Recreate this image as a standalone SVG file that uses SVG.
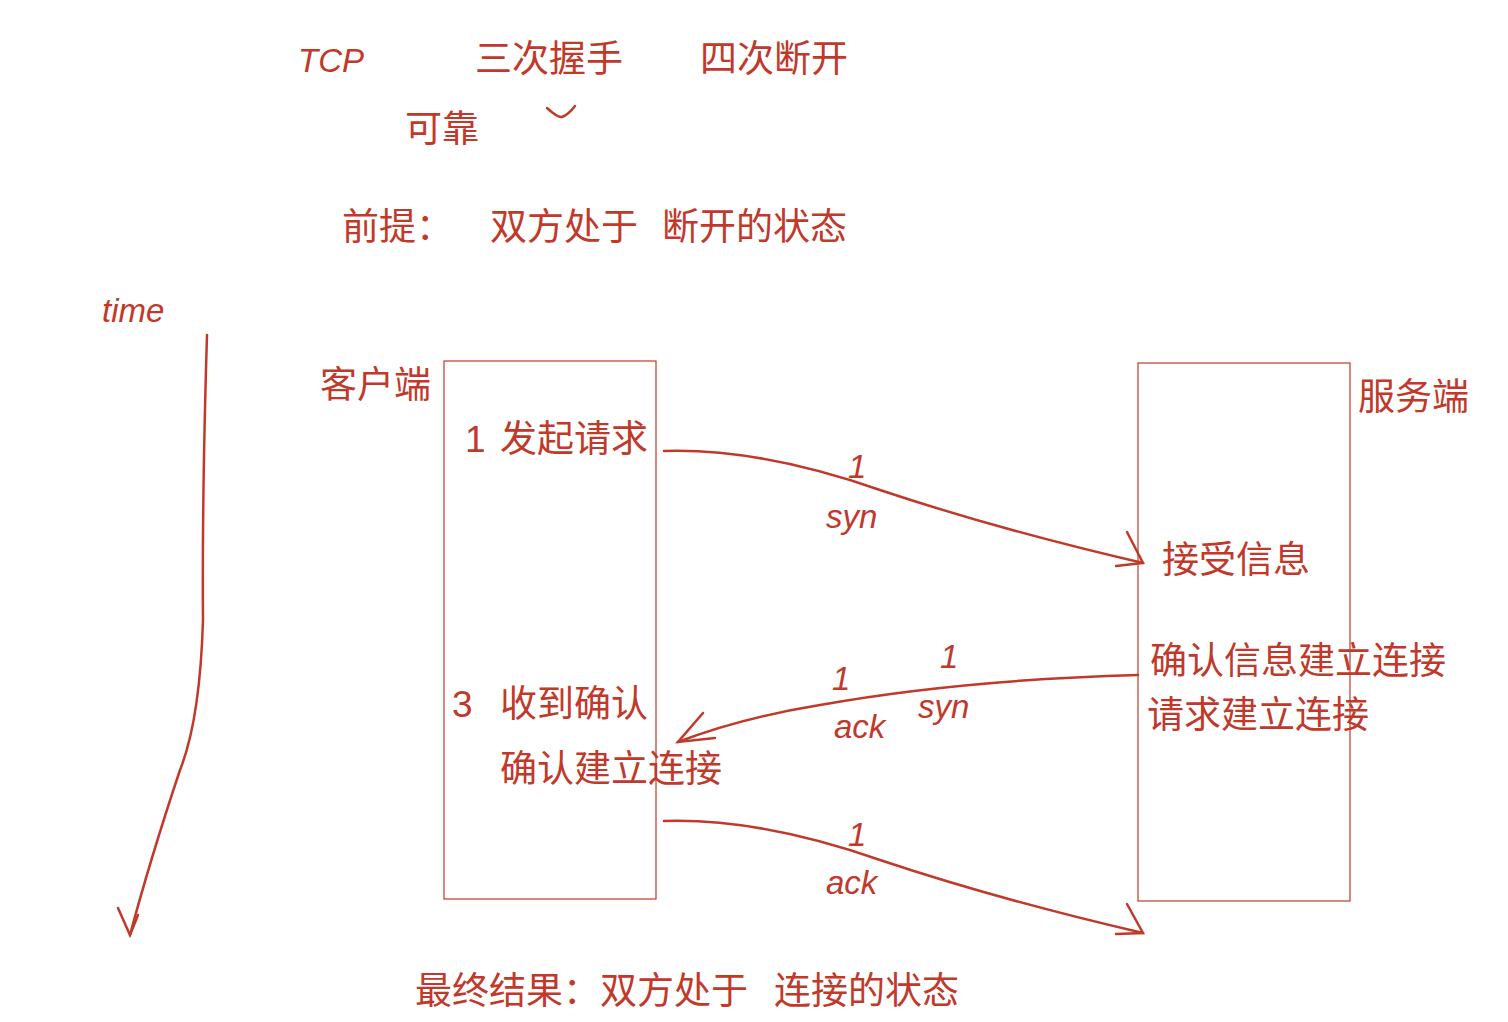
<svg xmlns="http://www.w3.org/2000/svg" width="1508" height="1022" viewBox="0 0 1508 1022">
<style>
text{fill:#c0392b;font-family:"Liberation Sans","Noto Sans CJK SC",sans-serif;font-size:37px}
.s{font-size:33px;font-style:italic}
.box{fill:none;stroke:#c0392b;stroke-width:1.2}
.c{fill:none;stroke:#c0392b;stroke-width:2.5;stroke-linecap:round}
</style>
<rect width="1508" height="1022" fill="#fff"/>
<g id="title">
<text x="298" y="72" class="s">TCP</text>
<text x="475" y="72">三次握手</text>
<text x="700" y="72">四次断开</text>
<text x="405" y="142">可靠</text>
<path class="c" d="M547 108 Q558 118 562 117 Q568 115 575 106"/>
<text x="342" y="240">前提：</text>
<text x="490" y="240">双方处于</text>
<text x="662" y="240">断开的状态</text>
<text x="102" y="322" class="s">time</text>
</g>
<g id="client">
<rect class="box" x="444" y="361" width="212" height="538"/>
<text x="320" y="398">客户端</text>
<text x="465" y="452">1</text>
<text x="500" y="452">发起请求</text>
<text x="452" y="717">3</text>
<text x="500" y="717">收到确认</text>
<text x="500" y="782">确认建立连接</text>
</g>
<g id="server">
<rect class="box" x="1138" y="363" width="212" height="538"/>
<text x="1358" y="410">服务端</text>
<text x="1162" y="573">接受信息</text>
<text x="1150" y="674">确认信息建立连接</text>
<text x="1147" y="728">请求建立连接</text>
</g>
<g id="connectors">
<path class="c" d="M207 335 Q202 500 203 620 Q200 720 180 770 Q150 860 130 935"/>
<path class="c" d="M118 908 L130 935 L138 915"/>
<path class="c" d="M664 451 Q760 448 880 490 Q1000 530 1143 563"/>
<path class="c" d="M1127 532 L1143 563 L1116 566"/>
<text x="848" y="478" class="s">1</text>
<text x="826" y="528" class="s">syn</text>
<path class="c" d="M1138 675 Q960 680 820 705 Q740 718 678 742"/>
<path class="c" d="M703 713 L678 742 L715 738"/>
<text x="832" y="690" class="s">1</text>
<text x="834" y="738" class="s">ack</text>
<text x="940" y="668" class="s">1</text>
<text x="918" y="718" class="s">syn</text>
<path class="c" d="M664 821 Q760 818 880 860 Q1000 900 1143 933"/>
<path class="c" d="M1127 904 L1143 933 L1116 934"/>
<text x="848" y="846" class="s">1</text>
<text x="826" y="894" class="s">ack</text>
</g>
<g id="result">
<text x="415" y="1004">最终结果：双方处于</text>
<text x="774" y="1004">连接的状态</text>
</g>
</svg>
